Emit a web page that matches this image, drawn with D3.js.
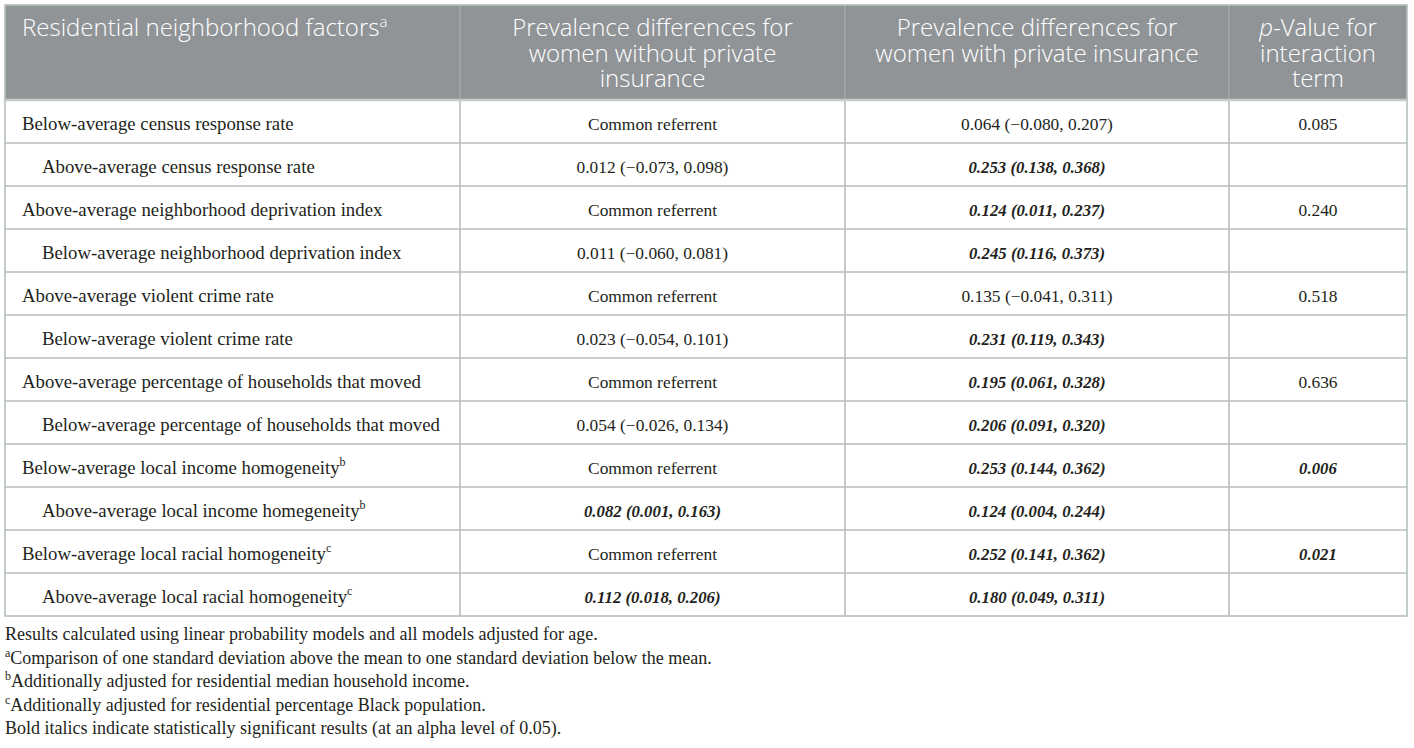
<!DOCTYPE html>
<html><head><meta charset="utf-8">
<script src="https://cdn.jsdelivr.net/npm/d3@7"></script>
<style>
html,body{margin:0;padding:0;background:#fff;}
svg{display:block;}
</style></head>
<body>
<svg id="chart" width="1414" height="748"></svg>
<script>
// ---- data ----
const headers = [
  ["Residential neighborhood factors"],
  ["Prevalence differences for", "women without private", "insurance"],
  ["Prevalence differences for", "women with private insurance"],
  ["p-Value for", "interaction", "term"]
];
const factors = [
  "Below-average census response rate",
  "Above-average census response rate",
  "Above-average neighborhood deprivation index",
  "Below-average neighborhood deprivation index",
  "Above-average violent crime rate",
  "Below-average violent crime rate",
  "Above-average percentage of households that moved",
  "Below-average percentage of households that moved",
  "Below-average local income homogeneity",
  "Above-average local income homegeneity",
  "Below-average local racial homogeneity",
  "Above-average local racial homogeneity"
];
const indented = [0,1,0,1,0,1,0,1,0,1,0,1];
const factorSup = ["","","","","","","","","b","b","c","c"];
const noPrivate = [
  "Common referrent", "0.012 (−0.073, 0.098)",
  "Common referrent", "0.011 (−0.060, 0.081)",
  "Common referrent", "0.023 (−0.054, 0.101)",
  "Common referrent", "0.054 (−0.026, 0.134)",
  "Common referrent", "0.082 (0.001, 0.163)",
  "Common referrent", "0.112 (0.018, 0.206)"
];
const noPrivateSig = [0,0,0,0,0,0,0,0,0,1,0,1];
const withPrivate = [
  "0.064 (−0.080, 0.207)", "0.253 (0.138, 0.368)",
  "0.124 (0.011, 0.237)", "0.245 (0.116, 0.373)",
  "0.135 (−0.041, 0.311)", "0.231 (0.119, 0.343)",
  "0.195 (0.061, 0.328)", "0.206 (0.091, 0.320)",
  "0.253 (0.144, 0.362)", "0.124 (0.004, 0.244)",
  "0.252 (0.141, 0.362)", "0.180 (0.049, 0.311)"
];
const withPrivateSig = [0,1,1,1,0,1,1,1,1,1,1,1];
const pValues = ["0.085","","0.240","","0.518","","0.636","","0.006","","0.021",""];
const pSig = [0,0,0,0,0,0,0,0,1,0,1,0];
const footnotes = [
  {sup:"", text:"Results calculated using linear probability models and all models adjusted for age."},
  {sup:"a", text:"Comparison of one standard deviation above the mean to one standard deviation below the mean."},
  {sup:"b", text:"Additionally adjusted for residential median household income."},
  {sup:"c", text:"Additionally adjusted for residential percentage Black population."},
  {sup:"", text:"Bold italics indicate statistically significant results (at an alpha level of 0.05)."}
];

// ---- layout ----
const svg = d3.select("#chart");
const tLeft = 5, tRight = 1407, tTop = 5, headerBottom = 100, tBottom = 616;
const colEdges = [tLeft, 460, 845, 1229, tRight];
const headFont = "'Open Sans', 'Noto Sans', sans-serif";
const bodyFont = "'Liberation Serif', 'Times New Roman', serif";
const textCol = "#231f20";
const lineCol = "#b9bdbc";

const y = d3.scaleBand().domain(d3.range(factors.length)).range([headerBottom, tBottom]);

// header background
svg.append("rect").attr("x", tLeft).attr("y", tTop).attr("width", tRight-tLeft).attr("height", headerBottom-tTop)
  .attr("fill", "#909497");

// header text
const hg = svg.append("g");
headers.forEach((lines, ci) => {
  const x0 = colEdges[ci], x1 = colEdges[ci+1];
  const anchor = ci === 0 ? "start" : "middle";
  const tx = ci === 0 ? x0 + 17 : (x0 + x1)/2;
  lines.forEach((ln, li) => {
    const t = hg.append("text").attr("x", tx).attr("y", 36 + li*25.5)
      .attr("text-anchor", anchor).attr("font-family", headFont).attr("font-size", 24)
      .attr("font-weight", 300).attr("fill", "#fff");
    if (ci === 3 && li === 0) {
      t.append("tspan").attr("font-style", "italic").text("p");
      t.append("tspan").text(ln.slice(1));
    } else {
      t.text(ln);
    }
    if (ci === 0 && li === 0) {
      t.append("tspan").attr("font-size", 15).attr("dy", -9).text("a");
    }
  });
});

// grid lines
const gl = svg.append("g").attr("stroke", lineCol).attr("stroke-width", 1.6).attr("fill", "none");
y.domain().slice(1).forEach(i => {
  gl.append("line").attr("x1", tLeft).attr("x2", tRight).attr("y1", y(i)).attr("y2", y(i));
});
colEdges.slice(1, -1).forEach(cx => {
  gl.append("line").attr("x1", cx).attr("x2", cx).attr("y1", headerBottom).attr("y2", tBottom);
  gl.append("line").attr("x1", cx).attr("x2", cx).attr("y1", tTop).attr("y2", headerBottom)
    .attr("stroke", "#a3a7a9");
});
gl.append("line").attr("x1", tLeft).attr("x2", tRight).attr("y1", headerBottom).attr("y2", headerBottom)
  .attr("stroke", "#c9cccc").attr("stroke-width", 2.5);
svg.append("rect").attr("x", tLeft).attr("y", tTop).attr("width", tRight-tLeft).attr("height", tBottom-tTop)
  .attr("fill", "none").attr("stroke", "#b5bfbb").attr("stroke-width", 1.6);

// body text
const bg = svg.append("g").attr("font-family", bodyFont).attr("fill", textCol);
factors.forEach((f, i) => {
  const cy = y(i) + y.bandwidth()/2 + 8;
  const t = bg.append("text").attr("x", colEdges[0] + (indented[i] ? 37 : 17)).attr("y", cy)
    .attr("font-size", 18.8).text(f);
  if (factorSup[i]) t.append("tspan").attr("font-size", 12).attr("dy", -8).text(factorSup[i]);
  const cells = [[noPrivate[i], noPrivateSig[i]], [withPrivate[i], withPrivateSig[i]], [pValues[i], pSig[i]]];
  cells.forEach(([v, s], k) => {
    if (!v) return;
    bg.append("text").attr("x", (colEdges[k+1] + colEdges[k+2])/2).attr("y", cy)
      .attr("text-anchor", "middle")
      .attr("font-size", s ? 16.8 : 17.4)
      .attr("font-weight", s ? "bold" : null)
      .attr("font-style", s ? "italic" : null)
      .text(v);
  });
});

// footnotes
const fg = svg.append("g").attr("font-family", bodyFont).attr("font-size", 18).attr("fill", textCol);
footnotes.forEach((fn, i) => {
  const t = fg.append("text").attr("x", 5).attr("y", 640 + i*23.6);
  if (fn.sup) t.append("tspan").attr("font-size", 12).attr("dy", -7).text(fn.sup);
  t.append("tspan").attr("dy", fn.sup ? 7 : 0).text(fn.text);
});
</script>
</body></html>
